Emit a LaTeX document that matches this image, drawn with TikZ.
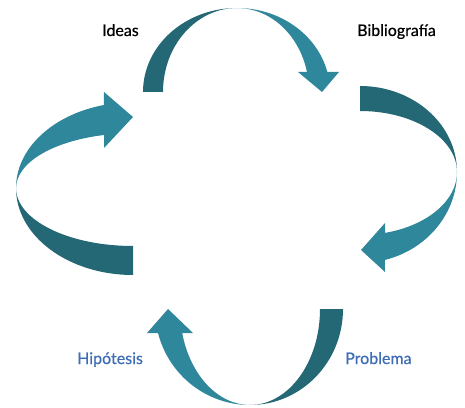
\documentclass[tikz,border=0pt]{standalone}
\usepackage{fontspec}
\setmainfont{Lato}[FakeBold=0.5]
\definecolor{darkteal}{RGB}{36,104,117}
\definecolor{lightteal}{RGB}{47,135,155}
\definecolor{labelblue}{RGB}{61,109,181}
\begin{document}
\begin{tikzpicture}[x=1pt,y=1pt,
  darkpart/.style={fill=darkteal,draw=none},
  lightpart/.style={fill=lightteal,draw=none},
  lbl/.style={anchor=base west,inner sep=0pt,font=\fontsize{16}{19}\selectfont}]
\useasboundingbox (0,0) rectangle (465,407);
% top arrow
\fill[darkpart] (143,315) arc[start angle=180,end angle=90,x radius=94,y radius=84]
  arc[start angle=90,end angle=180,x radius=74,y radius=84] -- cycle;
\fill[lightpart] (237,399) arc[start angle=90,end angle=13.8,x radius=93,y radius=84]
  -- (339,335) -- (322,315) -- (298,335) -- (307,335)
  arc[start angle=13.8,end angle=90,x radius=72,y radius=84] -- cycle;
% right arrow
\fill[darkpart] (360,321) arc[start angle=90,end angle=0,x radius=97,y radius=86]
  arc[start angle=0,end angle=90,x radius=97,y radius=61] -- cycle;
\fill[lightpart] (457,235) arc[start angle=0,end angle=-75.1,x radius=97,y radius=91]
  -- (385,135) -- (361,157) -- (385,184) -- (385,174.1)
  arc[start angle=-75.1,end angle=0,x radius=97,y radius=63] -- cycle;
% bottom arrow
\fill[darkpart] (343,98) arc[start angle=0,end angle=-90,x radius=93,y radius=96]
  arc[start angle=-90,end angle=0,x radius=70,y radius=96] -- cycle;
\fill[lightpart] (250,2) arc[start angle=270,end angle=194.5,x radius=95,y radius=96]
  -- (147,74) -- (168,98) -- (193,74) -- (182.2,74)
  arc[start angle=194.5,end angle=270,x radius=70,y radius=96] -- cycle;
% left arrow
\fill[darkpart] (133,132) arc[start angle=270,end angle=180,x radius=117,y radius=87]
  arc[start angle=180,end angle=270,x radius=117,y radius=58] -- cycle;
\fill[lightpart] (16,219) arc[start angle=180,end angle=104.4,x radius=117,y radius=85.7]
  -- (104,315) -- (133,290) -- (104,259) -- (104,272)
  arc[start angle=104.4,end angle=180,x radius=117,y radius=54.7] -- cycle;
% labels
\node[lbl,text=black] (ideas) at (102,371) {Ideas};
\node[lbl,text=black] (biblio) at (357,371) {Bibliografía};
\node[lbl,text=labelblue] (hipo) at (77,43) {Hipótesis};
\node[lbl,text=labelblue] (prob) at (345,43) {Problema};
\end{tikzpicture}
\end{document}
